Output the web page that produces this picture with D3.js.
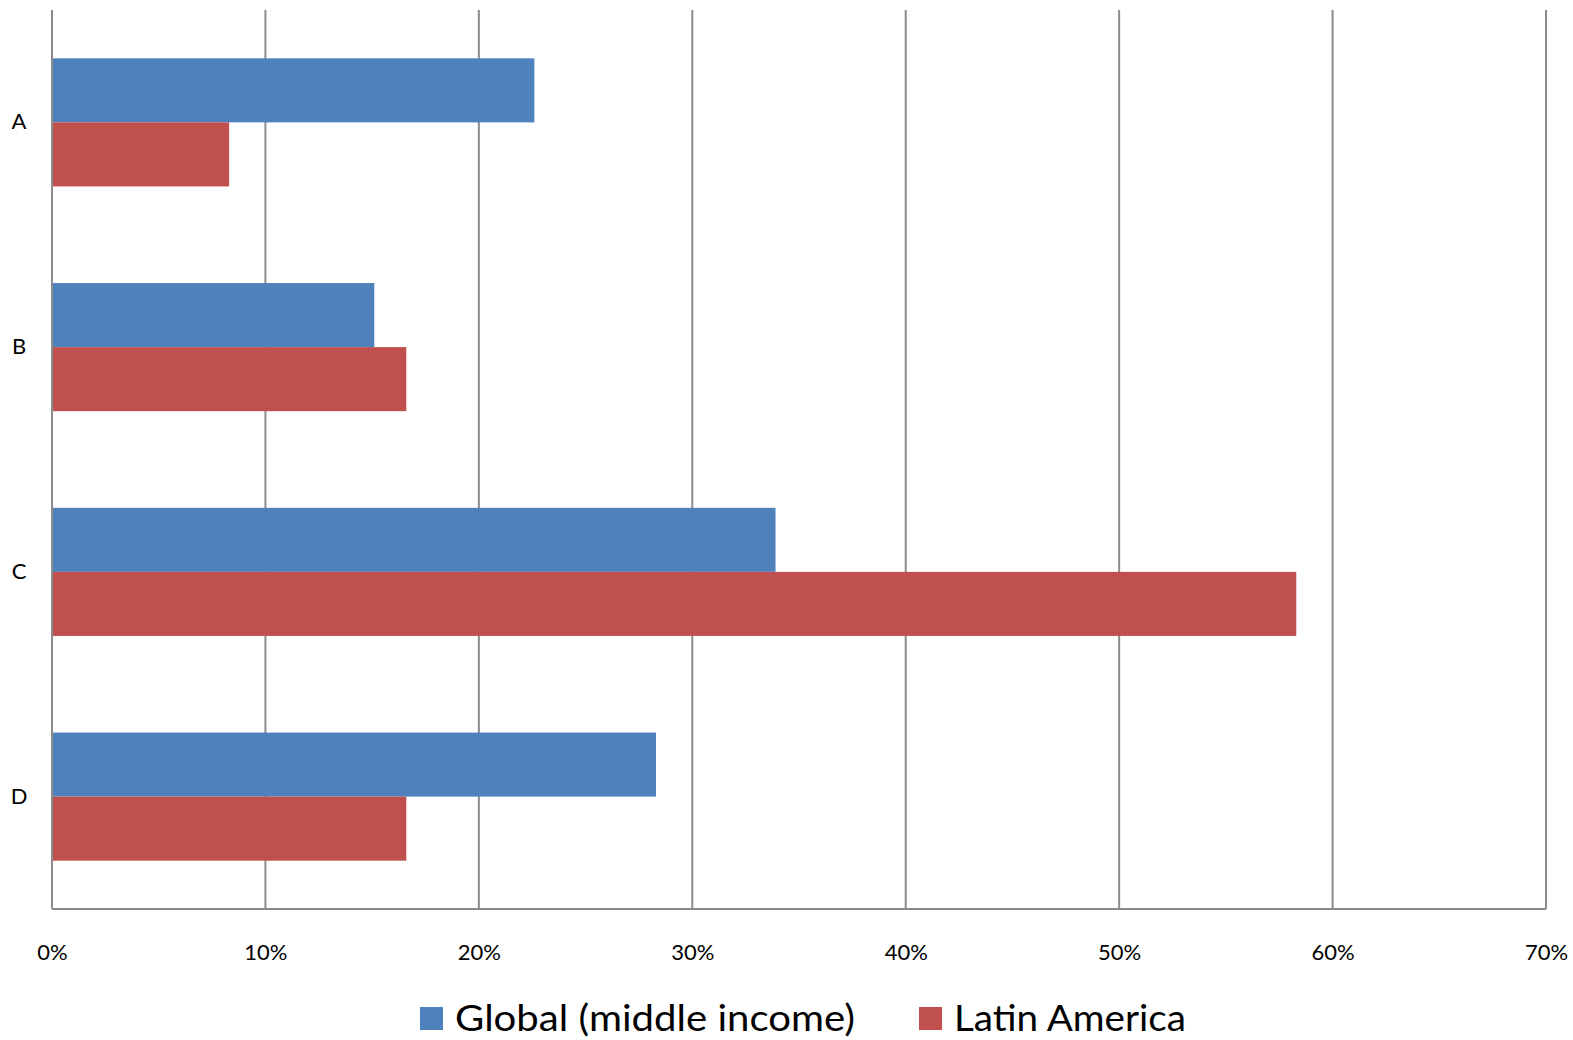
<!DOCTYPE html>
<html>
<head>
<meta charset="utf-8">
<script src="https://cdn.jsdelivr.net/npm/d3@7"></script>
<style>
  html, body { margin: 0; padding: 0; background: #fff; }
  svg { display: block; }
  text { font-family: Lato, "Open Sans", sans-serif; fill: #000; }
</style>
</head>
<body>
<svg id="chart" width="1573" height="1040"></svg>
<script>
const categories = ["A", "B", "C", "D"];
const seriesNames = ["Global (middle income)", "Latin America"];
const globalValues = [0.226, 0.151, 0.339, 0.283];
const latinValues = [0.083, 0.166, 0.583, 0.166];
const xTicks = [0, 0.1, 0.2, 0.3, 0.4, 0.5, 0.6, 0.7];
const colors = ["#4F81BD", "#C0504D"];

const svg = d3.select("#chart");
const margin = { left: 52, right: 27, top: 10, bottom: 131 };
const W = 1573, H = 1040;
const x = d3.scaleLinear().domain([0, 0.7]).range([margin.left, W - margin.right]);
const y = d3.scaleBand().domain(categories).range([margin.top, H - margin.bottom]).paddingInner(0.43).paddingOuter(0.215);
const sub = d3.scaleBand().domain([0, 1]).range([0, y.bandwidth()]);

const gridColor = "#8c8c8c";

// gridlines
svg.append("g").selectAll("line").data(xTicks).join("line")
  .attr("x1", d => x(d)).attr("x2", d => x(d))
  .attr("y1", margin.top).attr("y2", H - margin.bottom)
  .attr("stroke", gridColor).attr("stroke-width", 2);

// bottom axis line
svg.append("line")
  .attr("x1", x(0)).attr("x2", x(0.7))
  .attr("y1", H - margin.bottom).attr("y2", H - margin.bottom)
  .attr("stroke", gridColor).attr("stroke-width", 2);

// bars
const data = categories.map((c, i) => ({ cat: c, vals: [globalValues[i], latinValues[i]] }));
const g = svg.append("g");
data.forEach(d => {
  d.vals.forEach((v, s) => {
    g.append("rect")
      .attr("x", x(0) + 1)
      .attr("y", y(d.cat) + sub(s))
      .attr("width", x(v) - x(0) - 1)
      .attr("height", sub.bandwidth())
      .attr("fill", colors[s]);
  });
});

// x tick labels
const xAxis = d3.axisBottom(x).tickValues(xTicks).tickFormat(d3.format(".0%")).tickSize(0).tickPadding(0);
const xa = svg.append("g").attr("transform", `translate(0,${H - margin.bottom + 35})`).call(xAxis);
xa.select(".domain").remove();
xa.selectAll("text").attr("font-size", 22).attr("font-family", "Lato, sans-serif").attr("fill", "#000").attr("dy", "0.71em");

// y category labels
const yAxis = d3.axisLeft(y).tickSize(0).tickPadding(0);
const ya = svg.append("g").attr("transform", `translate(19,0)`).call(yAxis);
ya.select(".domain").remove();
ya.selectAll("text").attr("font-size", 22).attr("font-family", "Lato, sans-serif").attr("fill", "#000").attr("text-anchor", "middle");

// legend
const legend = svg.append("g");
const legendItems = [
  { name: seriesNames[0], color: colors[0], x: 420, w: 400 },
  { name: seriesNames[1], color: colors[1], x: 919, w: 232 }
];
legendItems.forEach(it => {
  legend.append("rect").attr("x", it.x).attr("y", 1007).attr("width", 23).attr("height", 23).attr("fill", it.color);
  legend.append("text").attr("x", it.x + 35).attr("y", 1031).attr("font-size", 36)
    .attr("textLength", it.w).attr("lengthAdjust", "spacingAndGlyphs").text(it.name);
});
</script>
</body>
</html>
